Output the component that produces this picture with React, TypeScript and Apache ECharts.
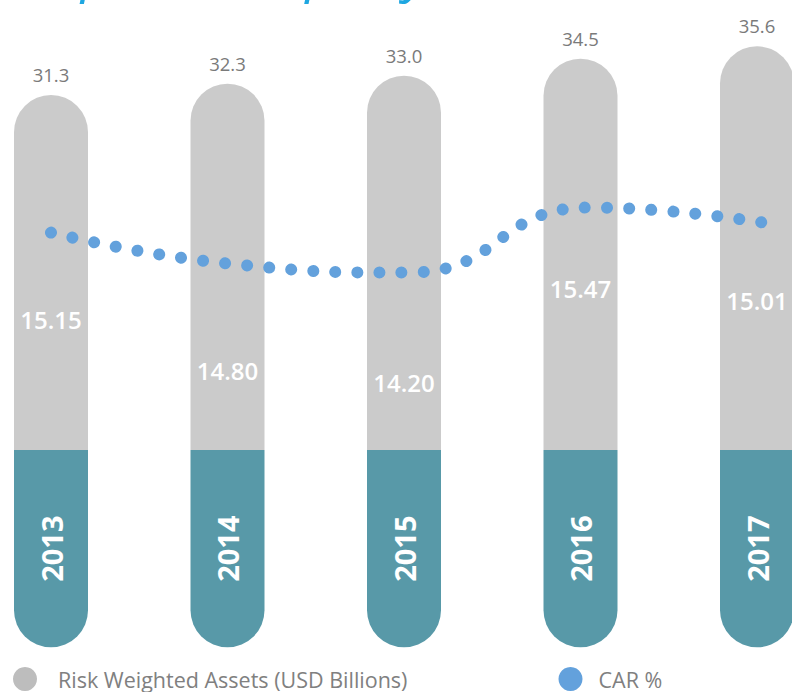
import React, { useEffect, useRef } from 'react';
import * as echarts from 'echarts';

// ---------- data ----------
const years = ['2013', '2014', '2015', '2016', '2017'];
const riskWeightedAssets = [31.3, 32.3, 33.0, 34.5, 35.6];
// CAR % values printed inside the bars
const carLabels = [15.15, 14.8, 14.2, 15.47, 15.01];
// CAR % curve as it is drawn in the reference
const carLinePlotted = [14.98, 14.37, 14.2, 15.47, 15.16];
// decorative teal base under every bar (value-axis units below zero)
const yearBase = [-17.4, -17.4, -17.4, -17.4, -17.4];

const RWA_NAME = 'Risk Weighted Assets (USD Billions)';
const CAR_NAME = 'CAR %';
const TITLE = 'Capital Adequacy Ratio';

// ---------- layout / style ----------
const FONT = "'Open Sans', sans-serif";
const GRAY = '#CBCBCB';
const TEAL = '#5899A8';
const BLUE = '#63A1DC';
const TEXT_GRAY = '#7A7A7A';
const BAR_W = 74;
const carLabelLift = [118, 67, 55, 149, 137];

export default function App() {
  const ref = useRef<HTMLDivElement>(null);

  useEffect(() => {
    if (!ref.current) return;
    const chart = echarts.init(ref.current, null, { renderer: 'svg' });

    const legendText = { fontSize: 21.5, color: '#808080', fontFamily: FONT };

    const option: any = {
      animation: false,
      grid: [
        { left: 51, right: 35, top: 41.76, bottom: 44.7 },
        { left: 51, right: 24, top: 180.4, bottom: 204.5 },
      ],
      xAxis: [
        { type: 'category', data: years, boundaryGap: false, show: false, gridIndex: 0 },
        { type: 'category', data: years, boundaryGap: false, show: false, gridIndex: 1 },
      ],
      yAxis: [
        { type: 'value', min: -17.4, max: 36, show: false, gridIndex: 0 },
        { type: 'value', min: 10, max: 16, show: false, gridIndex: 1 },
      ],
      legend: [
        {
          data: [{ name: RWA_NAME, itemStyle: { color: '#BDBDBD' } }],
          left: 8,
          top: 662,
          icon: 'circle',
          itemWidth: 24,
          itemHeight: 24,
          selectedMode: false,
          textStyle: { ...legendText, padding: [0, 0, 0, 16] },
        },
        {
          data: [{ name: CAR_NAME, itemStyle: { color: BLUE } }],
          left: 553.5,
          top: 662,
          icon: 'circle',
          itemWidth: 24,
          itemHeight: 24,
          selectedMode: false,
          textStyle: { ...legendText, padding: [0, 0, 0, 11] },
        },
      ],
      graphic: [
        {
          type: 'text',
          left: 19,
          top: -56,
          silent: true,
          style: {
            text: TITLE,
            font: "italic 53.5px 'Open Sans', sans-serif",
            fill: '#1EA7E1',
          },
        },
      ],
      series: [
        {
          name: 'Year',
          type: 'bar',
          stack: 'rwa',
          xAxisIndex: 0,
          yAxisIndex: 0,
          barWidth: BAR_W,
          barGap: '-100%',
          data: yearBase,
          silent: true,
          itemStyle: { color: TEAL, borderRadius: [0, 0, 37, 37] },
          label: {
            show: true,
            position: 'inside',
            rotate: 90,
            formatter: (p: any) => years[p.dataIndex],
            color: '#FFFFFF',
            fontSize: 29,
            fontWeight: 'bold',
            fontFamily: FONT,
          },
        },
        {
          name: RWA_NAME,
          type: 'bar',
          stack: 'rwa',
          xAxisIndex: 0,
          yAxisIndex: 0,
          barWidth: BAR_W,
          barGap: '-100%',
          data: riskWeightedAssets,
          silent: true,
          itemStyle: { color: GRAY, borderRadius: [37, 37, 0, 0] },
          label: {
            show: true,
            position: 'top',
            distance: 11,
            formatter: (p: any) => Number(p.value).toFixed(1),
            color: TEXT_GRAY,
            fontSize: 18.5,
            fontFamily: FONT,
          },
        },
        {
          name: 'CAR labels',
          type: 'bar',
          xAxisIndex: 0,
          yAxisIndex: 0,
          barWidth: BAR_W,
          barGap: '-100%',
          silent: true,
          data: carLabels.map((v, i) => ({ value: v, label: { distance: carLabelLift[i] } })),
          itemStyle: { color: 'rgba(0,0,0,0)' },
          label: {
            show: true,
            position: 'insideBottom',
            formatter: (p: any) => Number(p.value).toFixed(2),
            color: '#FFFFFF',
            fontSize: 24,
            fontWeight: 600,
            fontFamily: FONT,
          },
        },
        {
          name: CAR_NAME,
          type: 'line',
          xAxisIndex: 1,
          yAxisIndex: 1,
          data: carLinePlotted,
          smooth: 0.5,
          symbol: 'none',
          silent: true,
          itemStyle: { color: BLUE },
          lineStyle: { color: BLUE, width: 12, type: [0.01, 22.1], cap: 'round' },
        },
      ],
    };

    chart.setOption(option);
    return () => chart.dispose();
  }, []);

  return (
    <div
      ref={ref}
      style={{ position: 'fixed', left: 0, top: 0, width: 792, height: 692, background: '#ffffff' }}
    />
  );
}
